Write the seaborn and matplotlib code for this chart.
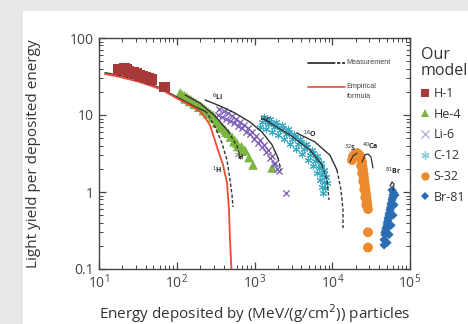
import matplotlib
matplotlib.use("Agg")
import matplotlib.pyplot as plt
import seaborn as sns
from matplotlib.lines import Line2D
from matplotlib.patches import Rectangle
from matplotlib.ticker import LogLocator, FuncFormatter, NullFormatter

# ---- model points (energy in MeV/(g/cm2), light yield per deposited energy) ----
h1_energy = [18, 19.5, 21, 22.5, 24, 26, 28, 30.8, 33.5, 36.8, 40, 44, 48, 70]
h1_yield = [38.5, 39.5, 39.8, 38.5, 37.2, 36.2, 35.3, 34.8, 33.0, 32.0, 31.0, 30.0, 29.3, 23.1]

he4_energy = [110, 117, 125, 133, 142, 152, 163, 175, 188, 200, 211, 225, 240, 255, 272,
              292, 312, 335, 360, 390, 418, 460, 514, 555, 596, 680, 755, 850, 957, 1680,
              128, 146, 168, 192, 220, 250, 285, 325, 372, 430, 490, 545, 610, 700]
he4_yield = [19.3, 18.5, 17.8, 17.2, 16.4, 15.8, 15.0, 14.3, 13.6, 13.2, 12.7, 12.0, 11.4, 10.9, 10.4,
             10.0, 9.0, 7.9, 7.2, 6.8, 6.4, 5.8, 5.2, 4.7, 4.3, 3.9, 3.5, 2.8, 2.24, 2.05,
             16.2, 15.0, 13.8, 12.6, 11.4, 10.4, 9.2, 8.0, 6.9, 6.0, 5.2, 4.5, 3.9, 3.4]

li6_energy = [350, 400, 455, 515, 585, 650, 735, 830, 930, 1050, 1180, 1330, 1500, 1680, 1860,
              340, 380, 430, 484, 545, 614, 691, 778, 876, 986, 1110, 1250, 1400, 1580, 1780, 1950, 2060,
              2540]
li6_yield = [12.0, 11.3, 10.5, 9.6, 8.9, 8.2, 7.5, 6.8, 6.0, 5.3, 4.7, 4.1, 3.5, 2.9, 2.4,
             10.0, 9.5, 9.0, 8.4, 7.9, 7.3, 6.7, 6.1, 5.6, 4.9, 4.3, 3.8, 3.3, 2.8, 2.3, 2.0, 1.85,
             0.97]

c12_energy = [1310, 1570, 1870, 2230, 2670, 3190, 3800, 4550, 5440, 6300, 7090, 7750, 8220, 8470,
              1247, 1493, 1783, 2128, 2540, 3034, 3623, 4332, 5180, 6000, 6756, 7380, 7830, 8070,
              1190, 1420, 1700, 2030, 2420, 2890, 3450, 4130, 4930, 5710, 6430, 7030, 7460, 7690,
              1370, 1630, 1950, 2330, 2780, 3320, 3960, 4730, 5650, 6500, 7250, 7900]
c12_yield = [9.4, 8.9, 8.1, 7.4, 6.6, 5.7, 4.9, 4.2, 3.5, 2.9, 2.4, 1.93, 1.57, 1.31,
             8.1, 7.64, 7.0, 6.4, 5.66, 4.88, 4.2, 3.61, 3.03, 2.53, 2.05, 1.66, 1.35, 1.13,
             7.0, 6.6, 6.0, 5.5, 4.9, 4.2, 3.6, 3.1, 2.6, 2.2, 1.76, 1.43, 1.16, 0.97,
             8.5, 7.9, 7.4, 6.8, 6.0, 5.2, 4.4, 3.8, 3.2, 2.6, 2.1, 1.7]

s32_energy = [17950, 19070, 20800, 22750, 24150, 24850, 25600, 26370, 27150, 27970, 28800,
              23500, 24200, 25000, 25800, 26600, 27400, 28800, 28800,
              18500, 21700, 23400, 24500, 25300, 26000, 26800, 27600, 28300]
s32_yield = [2.6, 3.03, 3.2, 2.94, 2.45, 1.93, 1.52, 1.20, 0.94, 0.74, 0.60,
             2.2, 1.75, 1.38, 1.08, 0.85, 0.68, 0.30, 0.19,
             2.9, 3.1, 2.7, 2.15, 1.7, 1.35, 1.06, 0.84, 0.67]

br81_energy = [58700, 60400, 58700, 57000, 55300, 53700, 52100, 50600, 49100, 47650, 46400, 46400,
               64100, 62200, 60400, 57000, 53700, 50600,
               61500, 59500, 57500, 55800, 54000, 52300, 50800, 49000, 47500]
br81_yield = [1.06, 0.91, 0.79, 0.68, 0.58, 0.50, 0.43, 0.37, 0.32, 0.28, 0.24, 0.205,
              0.91, 0.68, 0.50, 0.37, 0.28, 0.22,
              0.98, 0.84, 0.72, 0.62, 0.53, 0.46, 0.40, 0.34, 0.30]

# ---- measured curves (solid part, dashed part) ----
h1_meas_energy = [12, 18.6, 33.6, 61, 110, 172, 230]
h1_meas_yield = [35.5, 32.5, 28.0, 22.5, 16.3, 12.8, 11.2]
h1_meas_dash_energy = [230, 245, 311, 382, 443, 484, 514, 529]
h1_meas_dash_yield = [11.2, 10.6, 7.0, 4.3, 2.6, 1.43, 0.91, 0.64]

h2_meas_energy = [128, 199, 311, 456]
h2_meas_yield = [18.2, 14.3, 9.7, 6.2]
h2_meas_dash_energy = [456, 596, 670]
h2_meas_dash_yield = [6.2, 3.95, 2.6]

li6_meas_energy = [231, 360, 561, 876, 1248, 1680, 2005]
li6_meas_yield = [15.7, 13.1, 10.6, 8.1, 6.0, 4.1, 2.77]
li6_meas_dash_energy = [2005, 2190]
li6_meas_dash_yield = [2.77, 1.93]

c12_meas_energy = [1247, 2864, 5180, 7380]
c12_meas_yield = [9.1, 5.5, 3.5, 2.24]
c12_meas_dash_energy = [7380, 8550, 9080]
c12_meas_dash_yield = [2.24, 1.43, 0.79]

o16_meas_energy = [3525, 6000, 9350, 11500]
o16_meas_yield = [5.8, 4.46, 3.0, 1.93]
o16_meas_dash_energy = [11500, 12960, 13750, 13750]
o16_meas_dash_yield = [1.93, 1.06, 0.58, 0.34]

s32_meas_energy = [16900, 18500, 20800]
s32_meas_yield = [2.45, 2.95, 3.2]
ca40_meas_energy = [24150, 26370, 28800, 31500, 33400]
ca40_meas_yield = [2.45, 3.03, 3.12, 2.85, 2.05]
br81_meas_energy = [55300, 58700, 62200, 60400]
br81_meas_yield = [1.20, 1.35, 1.27, 1.06]

# ---- empirical formula (red) ----
emp_energy = [11.9, 18.6, 33.6, 61, 110, 172, 211, 268, 339, 394, 443, 470, 484, 505]
emp_yield = [34.1, 31.2, 26.8, 21.8, 15.7, 12.3, 10.6, 7.4, 3.5, 2.24, 1.31, 0.58, 0.24, 0.1]

# isotope tags next to the measured curves
tag_text = [r"$^{1}$H", r"$^{2}$H", r"$^{6}$Li", r"$^{12}$C", r"$^{16}$O",
            r"$^{32}$S", r"$^{40}$Ca", r"$^{81}$Br"]
tag_energy = [330, 640, 330, 1380, 5100, 17000, 31000, 60000]
tag_yield = [1.93, 2.85, 17.1, 8.6, 5.6, 3.7, 3.86, 1.87]

series_names = ["H-1", "He-4", "Li-6", "C-12", "S-32", "Br-81"]

sns.set_style("ticks")
plt.rcParams["font.family"] = ["Open Sans", "DejaVu Sans"]

fig = plt.figure(figsize=(4.68, 3.24), dpi=100)
fig.patch.set_facecolor("#e6e7e8")
fig.patches.append(Rectangle((23 / 468, 0), 1, 1 - 11 / 324, transform=fig.transFigure,
                             facecolor="white", edgecolor="none", zorder=-10))
ax = fig.add_axes([99 / 468, 55 / 324, 311 / 468, 231 / 324])
ax.set_zorder(1)
ax.set_facecolor("none")
ax.set_xscale("log")
ax.set_yscale("log")

# measured curves
meas = [(h1_meas_energy, h1_meas_yield, h1_meas_dash_energy, h1_meas_dash_yield),
        (h2_meas_energy, h2_meas_yield, h2_meas_dash_energy, h2_meas_dash_yield),
        (li6_meas_energy, li6_meas_yield, li6_meas_dash_energy, li6_meas_dash_yield),
        (c12_meas_energy, c12_meas_yield, c12_meas_dash_energy, c12_meas_dash_yield),
        (o16_meas_energy, o16_meas_yield, o16_meas_dash_energy, o16_meas_dash_yield)]
for xs, ys, xd, yd in meas:
    sns.lineplot(x=xs, y=ys, sort=False, estimator=None, color="#333333", lw=1.0, ax=ax, zorder=3)
    sns.lineplot(x=xd, y=yd, sort=False, estimator=None, color="#333333", lw=1.0,
                 linestyle=(0, (2.5, 1.5)), ax=ax, zorder=3)
for xs, ys in [(s32_meas_energy, s32_meas_yield), (ca40_meas_energy, ca40_meas_yield),
               (br81_meas_energy, br81_meas_yield)]:
    sns.lineplot(x=xs, y=ys, sort=False, estimator=None, color="#333333", lw=0.9, ax=ax, zorder=3)

sns.lineplot(x=emp_energy, y=emp_yield, sort=False, estimator=None, color="#ef4a36", lw=1.3,
             ax=ax, zorder=3)

# model points
sns.scatterplot(x=he4_energy, y=he4_yield, marker="^", color="#7db543", s=48, edgecolor="none",
                ax=ax, zorder=2)
sns.scatterplot(x=h1_energy, y=h1_yield, marker="s", color="#a8393a", s=62, edgecolor="none",
                ax=ax, zorder=4)
sns.scatterplot(x=li6_energy, y=li6_yield, marker="x", color="#7a5cb8", s=20, linewidth=0.9,
                ax=ax, zorder=2)
sns.scatterplot(x=c12_energy, y=c12_yield, marker=(6, 2, 0), color="#3aaac0", s=22, linewidth=0.8,
                ax=ax, zorder=2)
sns.scatterplot(x=s32_energy, y=s32_yield, marker="o", color="#ed8a2e", s=50, edgecolor="none",
                ax=ax, zorder=2)
sns.scatterplot(x=br81_energy, y=br81_yield, marker="D", color="#2a6db5", s=22, edgecolor="none",
                ax=ax, zorder=2)

for t, xe, ye in zip(tag_text, tag_energy, tag_yield):
    ax.text(xe, ye, t, fontsize=5, fontweight="bold", color="#222222", ha="center", va="center",
            zorder=5)

# in-plot key for the curves
key_font = ["Liberation Sans", "DejaVu Sans"]
ax.plot([0.672, 0.748], [0.892, 0.892], transform=ax.transAxes, color="#222222", lw=1.2)
ax.plot([0.748, 0.79], [0.892, 0.892], transform=ax.transAxes, color="#222222", lw=1.2,
        linestyle=(0, (2, 1)))
ax.text(0.797, 0.892, "Measurement", transform=ax.transAxes, fontsize=5.2, color="#444444",
        va="center", ha="left", family=key_font)
ax.plot([0.672, 0.79], [0.788, 0.788], transform=ax.transAxes, color="#ef4a36", lw=1.2)
ax.text(0.797, 0.805, "Empirical\nformula", transform=ax.transAxes, fontsize=5.2, color="#444444",
        va="top", ha="left", linespacing=1.5, family=key_font)

ax.set_xlim(10, 1e5)
ax.set_ylim(0.1, 100)
ax.xaxis.set_major_locator(LogLocator(base=10, numticks=10))
ax.xaxis.set_minor_locator(LogLocator(base=10, subs=range(2, 10), numticks=10))
ax.xaxis.set_minor_formatter(NullFormatter())
ax.yaxis.set_major_formatter(FuncFormatter(lambda v, _: f"{v:g}"))
ax.yaxis.set_minor_formatter(NullFormatter())
ax.tick_params(which="both", direction="in", top=True, right=True, colors="#444444",
               labelcolor="#444444", labelsize=10)
ax.tick_params(which="major", length=5, width=0.9)
ax.tick_params(which="minor", length=3, width=0.7)
for sp in ax.spines.values():
    sp.set_color("#444444")
    sp.set_linewidth(1.0)
    sp.set_visible(True)

ax.set_xlabel("Energy deposited by (MeV/(g/cm$^2$)) particles", fontsize=11, color="#333333")
ax.set_ylabel("Light yield per deposited energy", fontsize=11, color="#333333")
ax.xaxis.set_label_coords(0.5, -0.145)
ax.yaxis.set_label_coords(-0.185, 0.5)

# legend for the model points
handles = [
    Line2D([], [], marker="s", color="#a8393a", ls="none", markersize=5.5, markeredgewidth=0),
    Line2D([], [], marker="^", color="#7db543", ls="none", markersize=5.5, markeredgewidth=0),
    Line2D([], [], marker="x", color="#b7b1dc", ls="none", markersize=5.5, markeredgewidth=1.0),
    Line2D([], [], marker=(6, 2, 0), color="#8fcfdc", ls="none", markersize=6, markeredgewidth=1.0),
    Line2D([], [], marker="o", color="#ed8a2e", ls="none", markersize=6, markeredgewidth=0),
    Line2D([], [], marker="D", color="#2a6db5", ls="none", markersize=4.5, markeredgewidth=0),
]
leg = ax.legend(handles, series_names, title="Our\nmodel", loc="upper left",
                bbox_to_anchor=(1.035, 0.96), frameon=False, fontsize=9, title_fontsize=11.5,
                alignment="left", handlelength=0.7, handletextpad=0.3, labelspacing=0.62,
                borderaxespad=0, borderpad=0)
for txt in leg.get_texts():
    txt.set_color("#333333")
leg.get_title().set_color("#333333")
leg.get_title().set_linespacing(1.0)

fig.savefig("out.png", dpi=100, facecolor=fig.get_facecolor())
